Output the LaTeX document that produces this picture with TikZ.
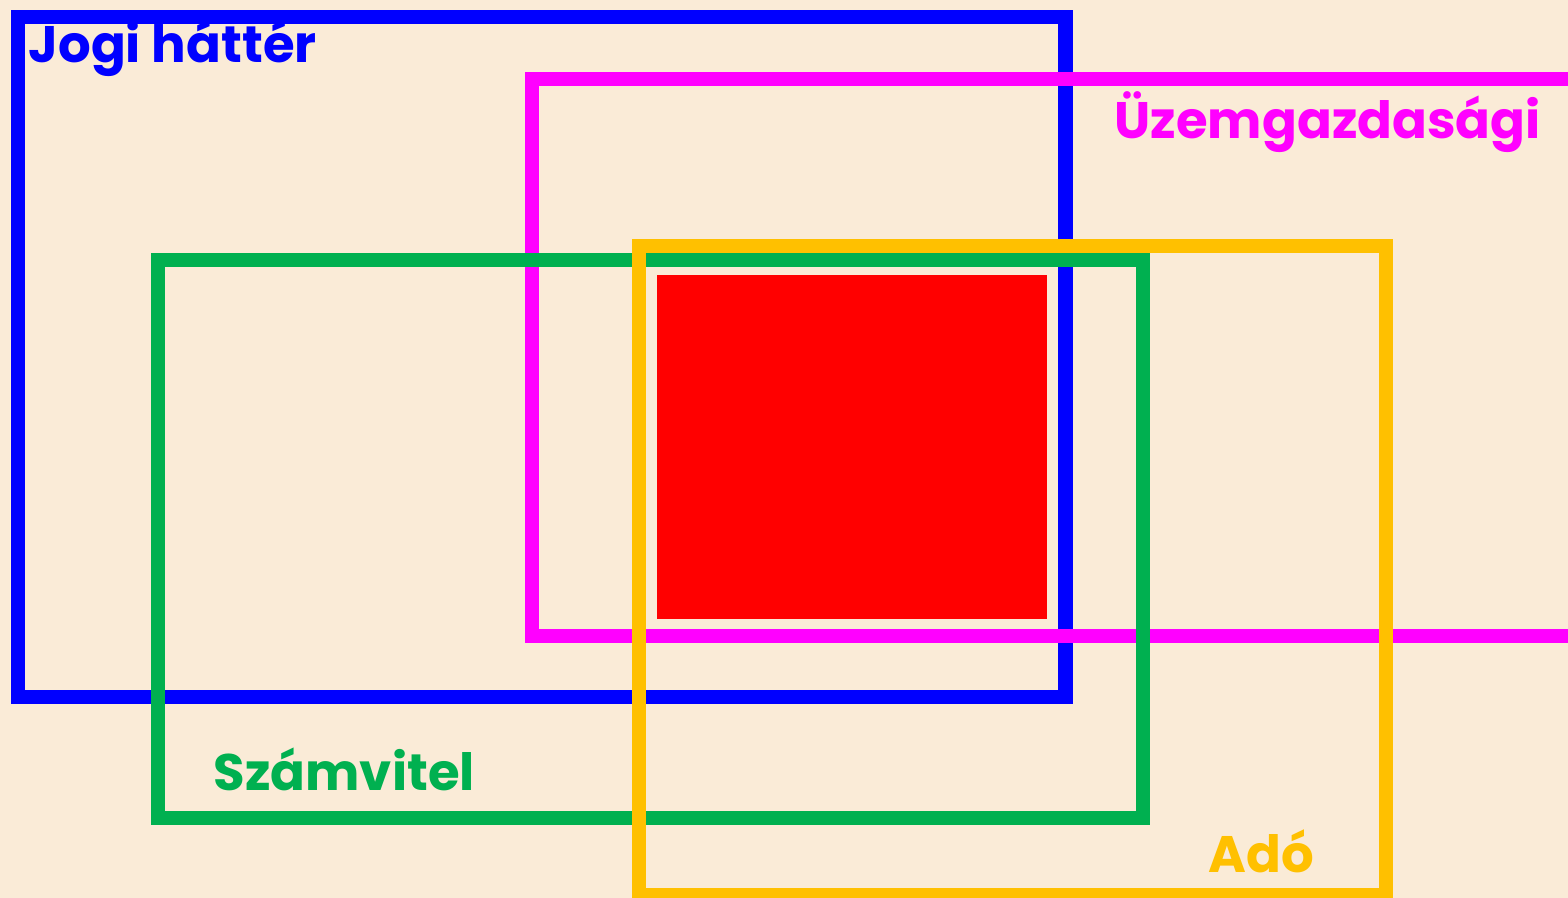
\documentclass[tikz,border=0pt]{standalone}
\usepackage{fontspec}
\setmainfont{Poppins}
\definecolor{paper}{HTML}{FAEBD7}
\definecolor{cblue}{HTML}{0000FF}
\definecolor{cmag}{HTML}{FF00FF}
\definecolor{cgreen}{HTML}{00B050}
\definecolor{cgold}{HTML}{FFC000}
\definecolor{cred}{HTML}{FF0000}
\tikzset{
  frame/.style={draw=#1, line width=0.14cm, line join=miter},
  label/.style={anchor=base west, inner sep=0pt, text=#1,
    font=\fontsize{14.6pt}{17pt}\selectfont\bfseries}
}
\begin{document}
\begin{tikzpicture}[x=0.01cm, y=-0.01cm]
  \useasboundingbox (0,0) rectangle (1568,898);
  \clip (0,0) rectangle (1568,898);
  \fill[paper] (0,0) rectangle (1568,898);
  % overlapping areas, back to front
  \draw[frame=cblue]  (18,17)   rectangle (1065.5,697);
  \draw[frame=cmag]   (532,79)  rectangle (1620,636.3);
  \draw[frame=cgreen] (158,260.5) rectangle (1143,818);
  \draw[frame=cgold]  (639,246) rectangle (1386.3,895);
  % common core
  \fill[cred] (656.5,275.5) rectangle (1047.3,619);
  % labels
  \node[label=cblue]  (jogi) at (28,63)    {Jogi háttér};
  \node[label=cmag]   (uzem) at (1114,139) {Üzemgazdasági};
  \node[label=cgreen] (szam) at (213,791)  {Számvitel};
  \node[label=cgold]  (ado)  at (1208,873) {Adó};
\end{tikzpicture}
\end{document}
